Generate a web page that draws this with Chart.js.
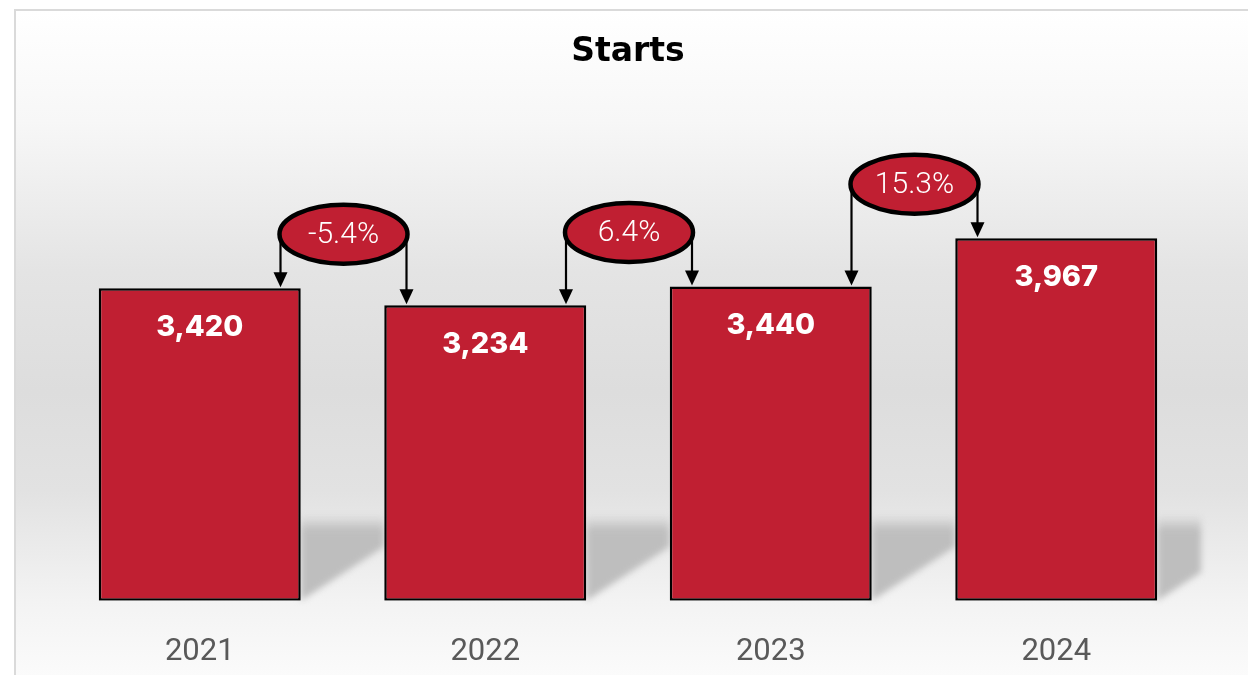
<!DOCTYPE html>
<html>
<head>
<meta charset="utf-8">
<script src="https://cdn.jsdelivr.net/npm/chart.js@4.4.0/dist/chart.umd.min.js"></script>
<style>
  html, body { margin: 0; padding: 0; width: 1248px; height: 675px; overflow: hidden; background: #ffffff; }
  #frame {
    position: absolute; left: 14px; top: 9px; width: 1300px; height: 720px;
    border-top: 2px solid #dadada; border-left: 2px solid #dadada;
    background: linear-gradient(to bottom, #ffffff 0px, #f7f7f7 110px, #e4e4e4 260px, #dddddd 380px, #e2e2e2 480px, #f3f3f3 590px, #fbfbfb 666px);
  }
  #chart { position: absolute; left: 8px; top: 0px; }
</style>
</head>
<body>
<div id="frame"></div>
<canvas id="chart" width="1240" height="705"></canvas>
<script>
// Starts by year
const years = ['2021', '2022', '2023', '2024'];
const starts = [3420, 3234, 3440, 3967];
const changeLabels = ['-5.4%', '6.4%', '15.3%'];

const barRed = '#C01F32';

// soft shadow behind each bar, falling to the right
const shadowPlugin = {
  id: 'barShadow',
  beforeDatasetsDraw(chart) {
    const ctx = chart.ctx;
    const area = chart.chartArea;
    const bars = chart.getDatasetMeta(0).data;
    ctx.save();
    ctx.filter = 'blur(3px)';
    bars.forEach((bar, i) => {
      const x0 = bar.x + bar.width / 2;
      const x1 = i < bars.length - 1 ? bars[i + 1].x - bars[i + 1].width / 2 : area.right + 2;
      const bottom = area.bottom;
      const top = bottom - 80;
      const g = ctx.createLinearGradient(0, top - 6, 0, top + 10);
      g.addColorStop(0, 'rgba(190,190,190,0)');
      g.addColorStop(1, 'rgba(190,190,190,1)');
      ctx.fillStyle = g;
      ctx.beginPath();
      ctx.moveTo(x0, top - 6);
      ctx.lineTo(x1, top - 6);
      ctx.lineTo(x1, bottom - 0.65 * (x1 - x0));
      ctx.lineTo(x0, bottom);
      ctx.closePath();
      ctx.fill();
    });
    ctx.restore();
  }
};

// value labels inside bars and the change bubbles with arrows
const labelPlugin = {
  id: 'barLabels',
  afterDatasetsDraw(chart) {
    const ctx = chart.ctx;
    const bars = chart.getDatasetMeta(0).data;
    ctx.save();
    ctx.fillStyle = '#ffffff';
    ctx.font = '800 29px Inter';
    ctx.textAlign = 'center';
    ctx.textBaseline = 'middle';
    bars.forEach((bar, i) => {
      ctx.fillText(starts[i].toLocaleString('en-US'), bar.x, bar.y + 39);
    });

    for (let i = 0; i < bars.length - 1; i++) {
      const a = bars[i], b = bars[i + 1];
      const cx = ((a.x + a.width / 2) + (b.x - b.width / 2)) / 2 + 1;
      const cy = Math.min(a.y, b.y) - 54;
      const rx = 64, ry = 29.5;
      const lx = cx - rx + 1, rxx = cx + rx - 1;
      // connector lines with arrowheads
      ctx.strokeStyle = '#000000';
      ctx.fillStyle = '#000000';
      ctx.lineWidth = 2.2;
      [[lx, a.y], [rxx, b.y]].forEach(([x, yEnd]) => {
        ctx.beginPath();
        ctx.moveTo(x, cy);
        ctx.lineTo(x, yEnd - 12);
        ctx.stroke();
        ctx.beginPath();
        ctx.moveTo(x - 7, yEnd - 16);
        ctx.lineTo(x + 7, yEnd - 16);
        ctx.lineTo(x, yEnd - 1);
        ctx.closePath();
        ctx.fill();
      });
      // bubble
      ctx.beginPath();
      ctx.ellipse(cx, cy, rx, ry, 0, 0, Math.PI * 2);
      ctx.fillStyle = barRed;
      ctx.fill();
      ctx.lineWidth = 4.5;
      ctx.strokeStyle = '#000000';
      ctx.stroke();
      ctx.fillStyle = '#ffffff';
      ctx.font = '300 30px Roboto';
      ctx.fillText(changeLabels[i], cx, cy + 1);
    }
    ctx.restore();
  }
};

new Chart(document.getElementById('chart'), {
  type: 'bar',
  data: {
    labels: years,
    datasets: [{
      label: 'Starts',
      data: starts,
      backgroundColor: barRed,
      borderColor: '#000000',
      borderWidth: 2.5,
      borderSkipped: false,
      categoryPercentage: 1,
      barPercentage: 0.7075
    }]
  },
  options: {
    responsive: false,
    animation: false,
    devicePixelRatio: 1,
    layout: { padding: { left: 49, right: 49, top: 0, bottom: 1 } },
    scales: {
      x: {
        grid: { display: false, drawTicks: false },
        border: { display: false },
        ticks: { color: '#595959', font: { family: 'Roboto', size: 31 }, padding: 33 }
      },
      y: { display: false, min: 0, max: 5000 }
    },
    plugins: {
      legend: { display: false },
      tooltip: { enabled: false },
      title: {
        display: true,
        text: 'Starts',
        color: '#000000',
        font: { family: 'DejaVu Sans', size: 33, weight: 'bold' },
        padding: { top: 33, bottom: 71.2 }
      }
    }
  },
  plugins: [shadowPlugin, labelPlugin]
});
</script>
</body>
</html>
